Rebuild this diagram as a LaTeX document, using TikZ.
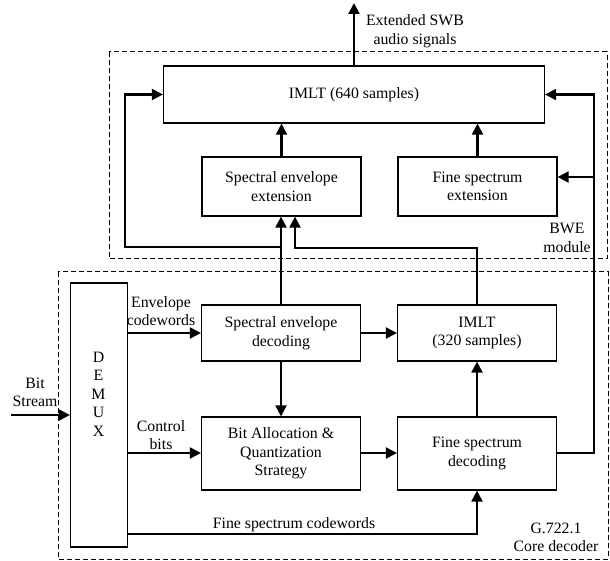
\documentclass[tikz,border=0pt]{standalone}
\usepackage{fontspec}
\setmainfont{Liberation Serif}
\usetikzlibrary{arrows.meta,positioning}

\begin{document}
\begin{tikzpicture}[
    x=1pt,y=-1pt,
    blockbox/.style={draw,line width=1.2pt,minimum width=159pt,align=center,
                     inner sep=2pt,font=\fontsize{15.8}{18.5}\selectfont},
    sigline/.style={line width=2.1pt,-{Triangle[length=11pt,width=11pt]}},
    dashbox/.style={draw,line width=1pt,dash pattern=on 5pt off 3pt},
    lbl/.style={align=center,inner sep=0pt,font=\fontsize{15.8}{18.5}\selectfont}
  ]
  \useasboundingbox (0,0) rectangle (610,561);

  % module frames
  \draw[dashbox] (109,52) rectangle (607,259);
  \draw[dashbox] (58,272) rectangle (608,559);
  \node[lbl] (bwelbl)  at (567,238)   {BWE\\module};
  \node[lbl] (corelbl) at (556,537.5) {G.722.1\\Core decoder};

  % BWE module
  \node[blockbox,minimum width=381pt,minimum height=57pt] (imltA) at (354,94.5) {IMLT (640 samples)};
  \node[blockbox,minimum height=59pt] (seext) at (281.5,186.5) {Spectral envelope\\extension};
  \node[blockbox,minimum height=59pt] (fsext) at (477.5,186.5) {Fine spectrum\\extension};

  % core decoder
  \node[blockbox,minimum width=57pt,minimum height=264pt] (demux) at (99,415) {};
  \node[lbl] (demuxtxt) at (98.5,394) {D\\E\\M\\U\\X};
  \node[blockbox,minimum height=56pt] (sedec) at (281,333) {Spectral envelope\\decoding};
  \node[blockbox,minimum height=56pt] (imltB) at (477,333) {IMLT\\(320 samples)};
  \node[blockbox,minimum height=73pt] (bitalloc) at (281,453.5) {Bit Allocation \&\\Quantization\\Strategy};
  \node[blockbox,minimum height=73pt] (fsdec) at (477,453.5) {Fine spectrum\\decoding};

  % input and output
  \coordinate (bsin) at (11,415);
  \coordinate (outtip) at (354,3);
  \node[lbl] (bslbl)  at (35,392.5) {Bit\\Stream};
  \node[lbl] (outlbl) at (415,31)   {Extended SWB\\audio signals};
  \draw[sigline] (bsin) -- (demux.west |- bsin);
  \draw[sigline] (imltA.north -| outtip) -- (outtip);

  % demux outputs
  \coordinate (envout) at (127.5,333);
  \coordinate (ctlout) at (127.5,453);
  \coordinate (fscout) at (127.5,534);
  \node[lbl] (envlbl) at (161,311) {Envelope\\codewords};
  \node[lbl] (ctllbl) at (161,435) {Control\\bits};
  \node[lbl] (fsclbl) at (294,525) {Fine spectrum codewords};
  \draw[sigline] (envout) -- (sedec.west |- envout);
  \draw[sigline] (ctlout) -- (bitalloc.west |- ctlout);
  \draw[sigline] (fscout) -| (fsdec.south);

  % inside the core decoder
  \draw[sigline] (sedec.east) -- (imltB.west);
  \draw[sigline] (sedec.south) -- (bitalloc.north);
  \draw[sigline] (bitalloc.east |- ctlout) -- (fsdec.west |- ctlout);
  \draw[sigline] (fsdec.north) -- (imltB.south);

  % into the BWE module
  \coordinate (envsplit) at (281,247);
  \coordinate (fbleft) at (125,247);
  \draw[sigline] (sedec.north) -- (seext.south -| sedec.north);
  \draw[sigline] (envsplit) -- (fbleft) |- (imltA.west);
  \coordinate (mltturn) at (295,248);
  \draw[sigline] (imltB.north) |- (mltturn) -- (seext.south -| mltturn);
  \coordinate (fbright) at (594,453);
  \coordinate (fssplit) at (594,177);
  \draw[sigline] (fsdec.east |- fbright) -- (fbright) |- (imltA.east);
  \draw[sigline] (fssplit) -- (fsext.east |- fssplit);
  \draw[sigline] (seext.north) -- (seext.north |- imltA.south);
  \draw[sigline] (fsext.north) -- (fsext.north |- imltA.south);
\end{tikzpicture}
\end{document}
